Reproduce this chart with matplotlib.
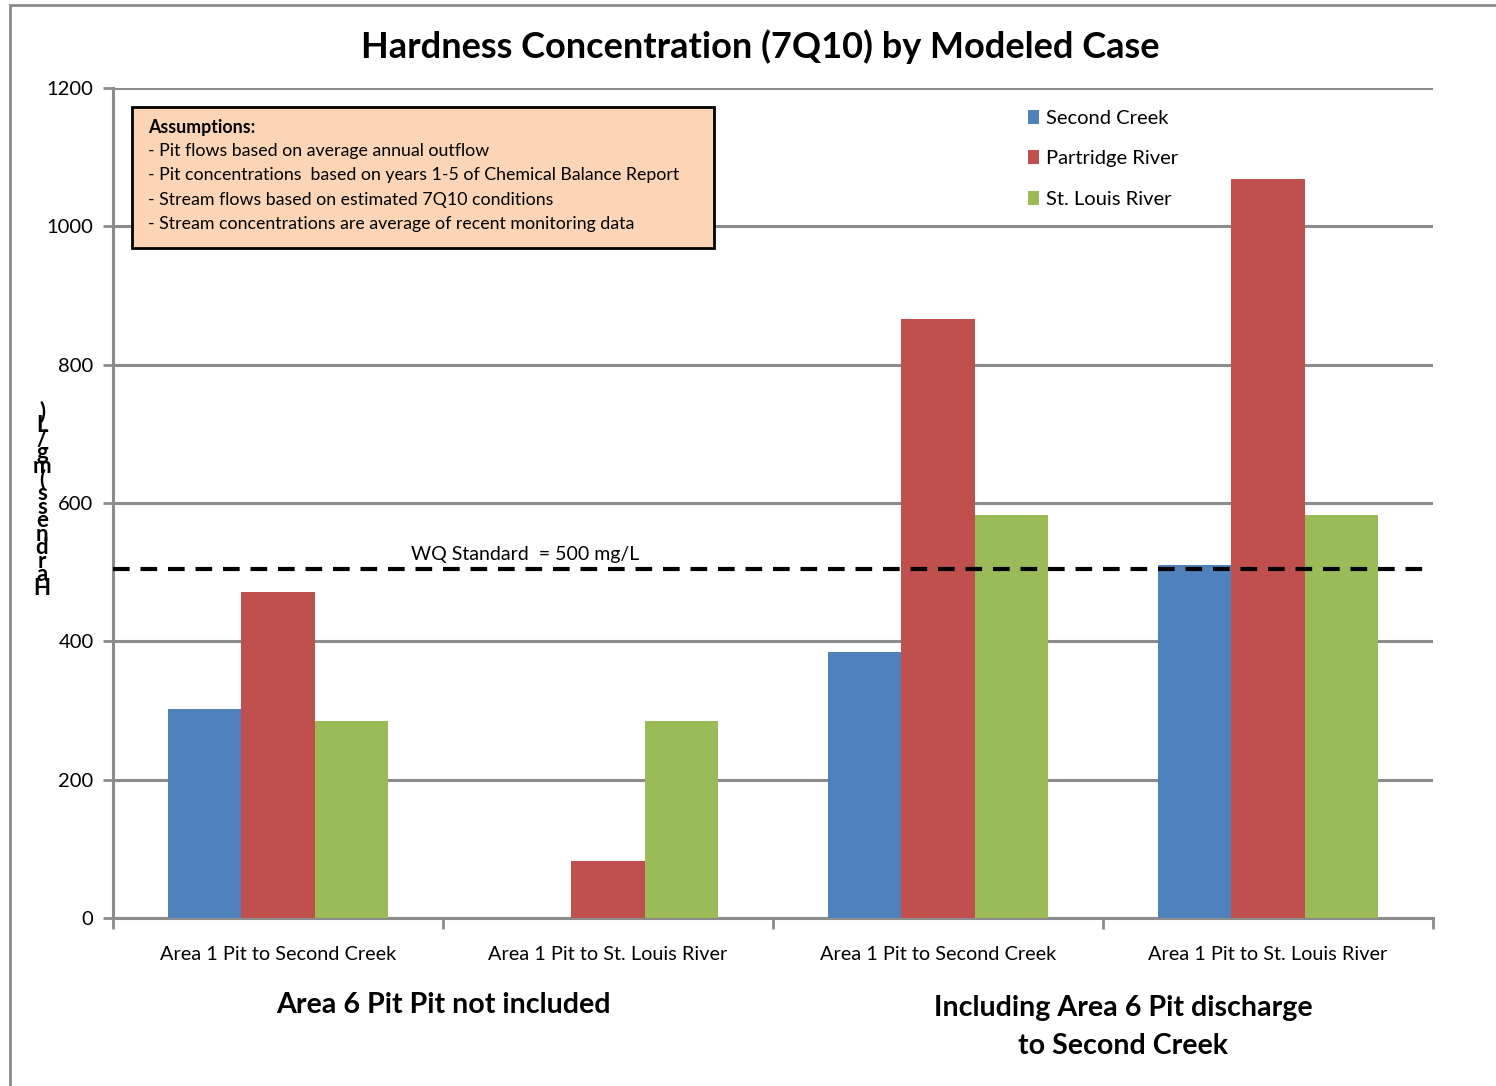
import matplotlib
matplotlib.use("Agg")
import matplotlib.pyplot as plt
from matplotlib.patches import Rectangle
import numpy as np

categories = ["Area 1 Pit to Second Creek", "Area 1 Pit to St. Louis River",
              "Area 1 Pit to Second Creek", "Area 1 Pit to St. Louis River"]
series_names = ["Second Creek", "Partridge River", "St. Louis River"]
second_creek = [302, 0, 385, 511]
partridge_river = [471, 82, 866, 1069]
st_louis_river = [285, 285, 583, 583]
wq_standard = 505
yticks = [0, 200, 400, 600, 800, 1000, 1200]
group_labels = ["Area 6 Pit Pit not included", "Including Area 6 Pit discharge\nto Second Creek"]
assumptions = ["- Pit flows based on average annual outflow",
               "- Pit concentrations  based on years 1-5 of Chemical Balance Report",
               "- Stream flows based on estimated 7Q10 conditions",
               "- Stream concentrations are average of recent monitoring data"]

colors = ["#4F81BD", "#C0504D", "#9BBB59"]
FONT = ["Lato", "DejaVu Sans"]
plt.rcParams['font.family'] = FONT

W, H = 1496, 1086
fig = plt.figure(figsize=(W / 100, H / 100), dpi=100)
ax = fig.add_axes([113 / W, 1 - 918 / H, (1433 - 113) / W, (918 - 88) / H])

x = np.arange(len(categories))
bw = 0.223
for i, (vals, c, name) in enumerate(zip([second_creek, partridge_river, st_louis_river], colors, series_names)):
    ax.bar(x + (i - 1) * bw, vals, width=bw, color=c, label=name, zorder=3)

ax.set_ylim(0, 1200)
ax.set_xlim(-0.5, 3.5)
ax.set_yticks(yticks)
ax.set_yticklabels([str(t) for t in yticks], fontsize=14.5)
ax.yaxis.grid(True, color="#8C8C8C", linewidth=2.2, zorder=0)
ax.set_axisbelow(True)
ax.set_xticks(np.arange(-0.5, 4.0, 1.0))
ax.set_xticklabels([])
ax.set_xticks(x, minor=True)
ax.set_xticklabels(categories, minor=True, fontsize=14.3)
ax.tick_params(axis='x', which='minor', length=0, pad=20)
ax.tick_params(axis='x', which='major', length=8, width=2, color="#8C8C8C", direction='out')
ax.tick_params(axis='y', length=7, width=2, color="#8C8C8C", direction='out', pad=7)
for s in ["top", "right"]:
    ax.spines[s].set_visible(False)
for s in ["left", "bottom"]:
    ax.spines[s].set_color("#8C8C8C")
    ax.spines[s].set_linewidth(2.2)

ax.axhline(wq_standard, color="black", linestyle=(0, (4, 2.6)), linewidth=3, zorder=4)
ax.text(0.75, wq_standard + 8, "WQ Standard  = 500 mg/L", fontsize=14, ha="center", va="bottom", zorder=5)

leg = ax.legend(loc="upper left", bbox_to_anchor=((1010 - 113) / 1320, 1 - 4 / 830), frameon=False,
                fontsize=14.5, handlelength=0.55, handleheight=0.7, handletextpad=0.35, labelspacing=1.15)

# Assumptions box
box = Rectangle((132 / W, 1 - 248 / H), (714 - 132) / W, (248 - 107) / H, transform=fig.transFigure,
                facecolor="#FBD5B5", edgecolor="black", linewidth=2, zorder=10)
fig.patches.append(box)
fig.text(148 / W, 1 - 127 / H, "Assumptions:", fontsize=12.8, fontweight="bold", va="center", zorder=11)
for k, line in enumerate(assumptions):
    fig.text(148 / W, 1 - (151 + 24.3 * k) / H, line, fontsize=12.8, va="center", zorder=11)

# Title
fig.text(760 / W, 1 - 47 / H, "Hardness Concentration (7Q10) by Modeled Case", fontsize=26,
         fontweight="bold", ha="center", va="center")

# Group labels
fig.text(443 / W, 1 - 1005 / H, group_labels[0], fontsize=20.6, fontweight="bold", ha="center", va="center")
fig.text(1123 / W, 1 - 1027 / H, group_labels[1], fontsize=20.6, fontweight="bold", ha="center", va="center",
         linespacing=1.6)

# Stacked y-axis label
ylabel = "Hardness(mg/L)"
fig.text(42 / W, 1 - 500 / H, "\n".join(reversed(ylabel)), fontsize=16, fontweight="bold",
         ha="center", va="center", linespacing=0.56, multialignment="center")

# Outer chart frame
frame = Rectangle((10 / W, -0.05), 1.2, 1 - 5 / H + 0.05, transform=fig.transFigure, fill=False,
                  edgecolor="#8C8C8C", linewidth=2, zorder=0)
fig.patches.append(frame)

fig.savefig("out.png", dpi=100)
